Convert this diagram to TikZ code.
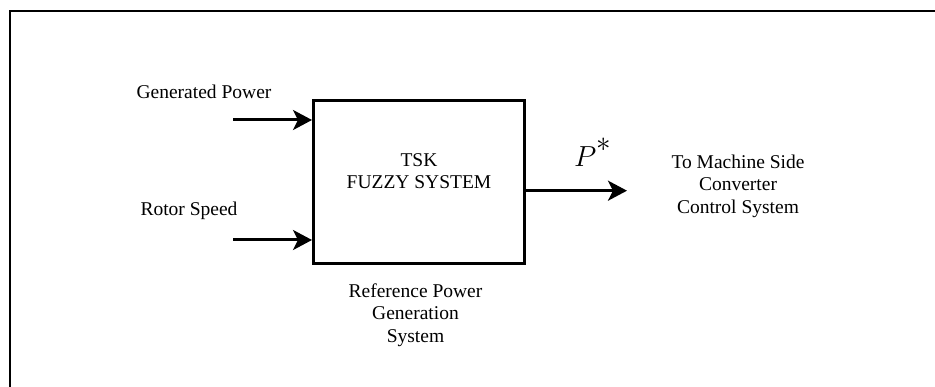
\documentclass[tikz,border=0pt]{standalone}
\usepackage{fix-cm}
\usepackage{fontspec}
\setmainfont{Liberation Serif}
\usetikzlibrary{arrows.meta,positioning}

\begin{document}
\begin{tikzpicture}[x=1pt, y=-1pt,
                    block/.style={draw, line width=3pt, minimum width=211pt, minimum height=163pt},
                    txt/.style={align=center, inner sep=0pt, font=\fontsize{19.5}{22.5}\selectfont},
                    signal/.style={line width=3pt, -{Stealth[length=19pt, width=20pt, inset=5pt]}}]
    \useasboundingbox (0,0) rectangle (935,387);
    \draw[line width=2.5pt] (10,387) -- (10,11) -- (935,11);

    \node[block] (box) at (419,182)                          {};
    \node[txt] (tsk) at ([yshift=11pt]box.center)            {TSK\\FUZZY SYSTEM};

    \coordinate (gp in) at (233,120);
    \coordinate (rs in) at (233,240);
    \coordinate (out end) at (627,190.7);

    \node[txt] (gp) at (204,92)                              {Generated Power};
    \node[txt] (rs) at (189,211)                             {Rotor Speed};
    \node[txt] (ref) at (415.5,315)                          {Reference Power\\Generation\\System};
    \node[txt] (msc) at (738,186)                            {To Machine Side\\Converter\\Control System};
    \node[inner sep=0pt, anchor=base west,
          font=\fontsize{29}{31}\selectfont] (pstar) at (574,167) {$P^{\raisebox{5pt}{$\textstyle *$}}$};

    \path[signal]
    (gp in) edge (gp in -| box.west)
    (rs in) edge (rs in -| box.west)
    (out end -| box.east) edge (out end);
\end{tikzpicture}
\end{document}
